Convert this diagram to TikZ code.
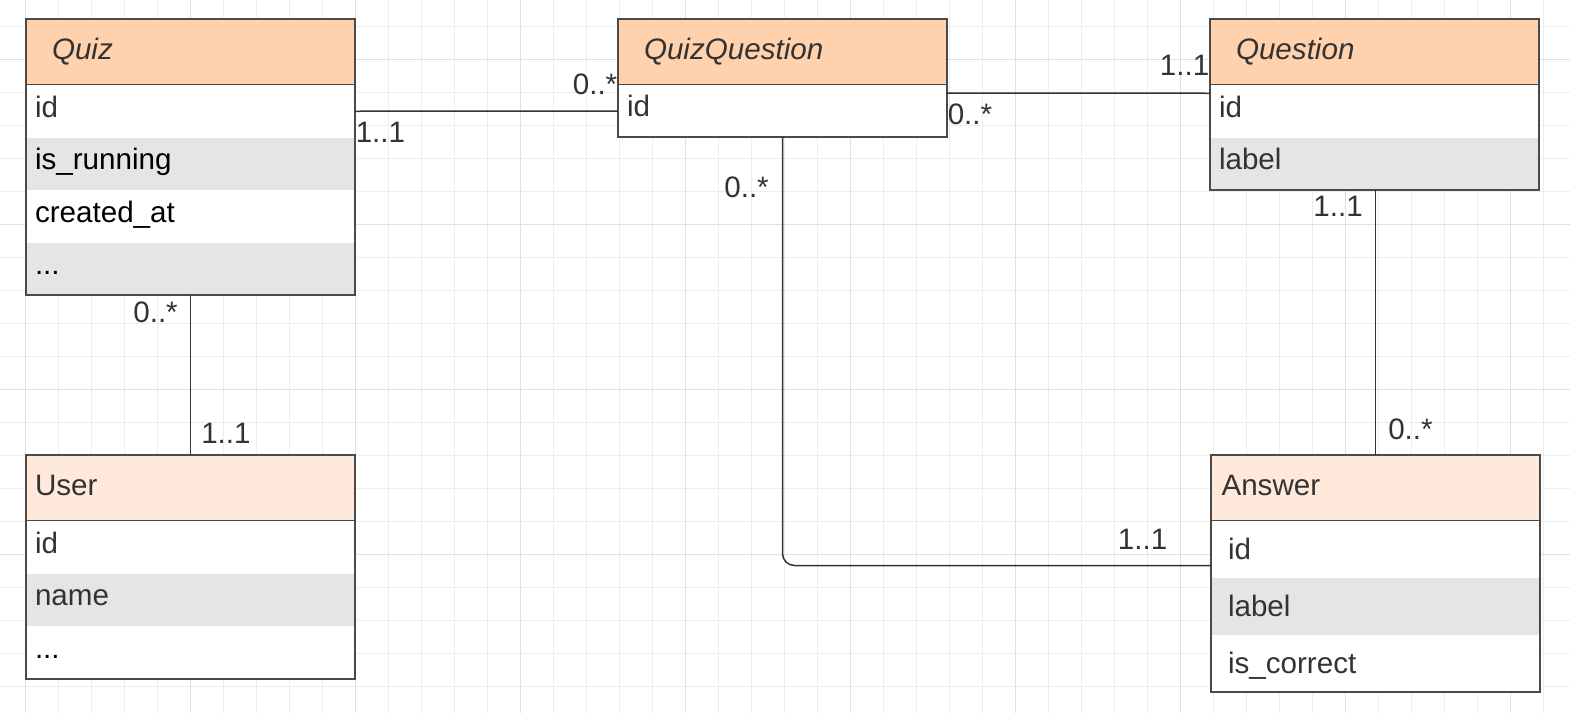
\documentclass[tikz,border=0pt]{standalone}
\usepackage{fontspec}
\setmainfont{Liberation Sans}
\usetikzlibrary{positioning}

\definecolor{hdrdark}{HTML}{FFD1AC}
\definecolor{hdrlight}{HTML}{FFE9DB}
\definecolor{rowgray}{HTML}{E5E5E5}
\definecolor{boxline}{HTML}{4A4A4A}
\definecolor{ink}{HTML}{333333}
\definecolor{gridminor}{HTML}{EDEDED}
\definecolor{gridmajor}{HTML}{E0E0E0}

\newcommand\diafont{\fontsize{14.8}{17}\selectfont}

\tikzset{
  hdr/.style={draw=boxline, line width=1pt, anchor=north west, minimum width=164.5pt, minimum height=33pt,
    inner sep=0pt, outer sep=0pt, align=left, text height=10.5pt, text depth=3.5pt, text=ink},
  title/.style={hdr, fill=hdrdark, font=\diafont\itshape, text width=138.5pt},
  ent/.style={hdr, fill=hdrlight, font=\diafont, text width=155.5pt},
  fld/.style={fill=white, minimum width=164.5pt, minimum height=26.25pt, inner sep=0pt, outer sep=0pt, align=left,
    text width=155.5pt, text height=10pt, text depth=4.25pt, text=ink, font=\diafont},
  ansfld/.style={fld, minimum height=28.5pt, text width=147.5pt, text height=11pt, text depth=1pt},
  shade/.style={fill=rowgray},
  frame/.style={draw=boxline, line width=1pt},
  link/.style={draw=ink, line width=0.75pt},
  mult/.style={inner sep=0pt, text=ink, font=\diafont},
}

\begin{document}
\begin{tikzpicture}[x=0.5pt,y=-0.5pt]
    % paper and grid
    \fill[white] (0,0) rectangle (1570,713);
    \useasboundingbox (0,0) rectangle (1570,713);
    \foreach \i in {0,...,46} \draw[gridminor, line width=0.5pt] ({25+33*\i},0) -- ({25+33*\i},713);
    \foreach \j in {0,...,20} \draw[gridminor, line width=0.5pt] (0,{26+33*\j}) -- (1570,{26+33*\j});
    \foreach \i in {0,...,9} \draw[gridmajor, line width=0.5pt] ({25+165*\i},0) -- ({25+165*\i},713);
    \foreach \j in {0,...,3} \draw[gridmajor, line width=0.5pt] (0,{59+165*\j}) -- (1570,{59+165*\j});

    % Quiz
    \node[title] (quiz) at (26,19) {Quiz};
    \node[fld, below=0pt of quiz] (quizid) {id};
    \node[fld, shade, below=0pt of quizid, text=black] (quizrun) {is\_running};
    \node[fld, below=0pt of quizrun, text=black] (quizdate) {created\_at};
    \node[fld, shade, below=0pt of quizdate, text=black] (quizetc) {...};
    \draw[frame] (quiz.north west) rectangle (quizetc.south east);

    % QuizQuestion
    \node[title] (qq) at (618,19) {QuizQuestion};
    \node[fld, below=0pt of qq, minimum height=26pt] (qqid) {id};
    \draw[frame] (qq.north west) rectangle (qqid.south east);

    % Question
    \node[title] (quest) at (1210,19) {Question};
    \node[fld, below=0pt of quest] (questid) {id};
    \node[fld, shade, below=0pt of questid] (questlabel) {label};
    \draw[frame] (quest.north west) rectangle (questlabel.south east);

    % User
    \node[ent] (user) at (26,455) {User};
    \node[fld, below=0pt of user] (userid) {id};
    \node[fld, shade, below=0pt of userid] (username) {name};
    \node[fld, below=0pt of username, text=black] (useretc) {...};
    \draw[frame] (user.north west) rectangle (useretc.south east);

    % Answer
    \node[ent, text width=154pt] (answer) at (1211,455) {Answer};
    \node[ansfld, below=0pt of answer] (ansid) {id};
    \node[ansfld, shade, below=0pt of ansid] (anslabel) {label};
    \node[ansfld, below=0pt of anslabel] (anscorrect) {is\_correct};
    \draw[frame] (answer.north west) rectangle (anscorrect.south east);

    % links
    \draw[link] (quizid.east) -- (qqid.west)
        node[mult, at start, anchor=base west, yshift=-15.5pt] (mquizqq) {1..1}
        node[mult, at end, anchor=base east, yshift=8.5pt] (mqqquiz) {0..*};
    \draw[link] ([yshift=9pt]qqid.east) -- ([yshift=9pt]questid.west)
        node[mult, at start, anchor=base west, yshift=-15.5pt] (mqqquest) {0..*}
        node[mult, at end, anchor=base east, yshift=9pt] (mquestqq) {1..1};
    \draw[link] (quizetc.south) -- (user.north)
        node[mult, at start, anchor=base east, xshift=-6pt, yshift=-13.5pt] (mquizuser) {0..*}
        node[mult, at end, anchor=base west, xshift=5pt, yshift=6pt] (muserquiz) {1..1};
    \draw[link] (answer.north |- questlabel.south) -- (answer.north)
        node[mult, at start, anchor=base east, xshift=-6pt, yshift=-13pt] (mquestans) {1..1}
        node[mult, at end, anchor=base west, xshift=6pt, yshift=8pt] (mansquest) {0..*};
    \draw[link, rounded corners=6pt] (qqid.south) |- ([yshift=-8pt]ansid.west)
        node[mult, at start, anchor=base east, xshift=-6.5pt, yshift=-30pt] (mqqans) {0..*}
        node[mult, at end, anchor=base east, xshift=-21.5pt, yshift=8pt] (mansqq) {1..1};
\end{tikzpicture}
\end{document}
